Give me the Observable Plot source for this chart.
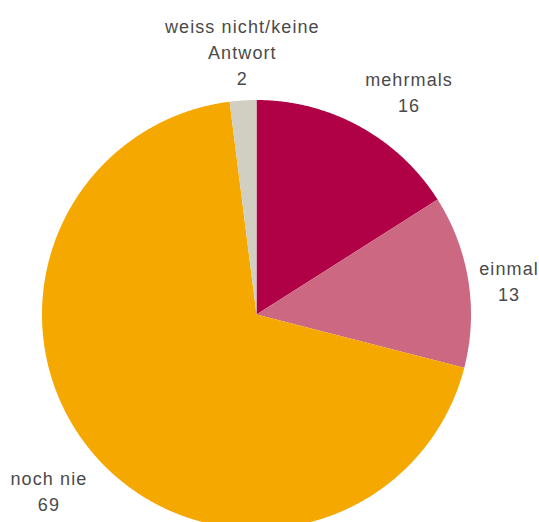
<!DOCTYPE html>
<html>
<head>
<meta charset="utf-8">
<script src="https://cdn.jsdelivr.net/npm/d3@7"></script>
<script src="https://cdn.jsdelivr.net/npm/@observablehq/plot@0.6"></script>
<style>
  html, body { margin: 0; padding: 0; background: #fff; }
</style>
</head>
<body>
<div id="chart"></div>
<script>
// Data
const categories = ["mehrmals", "einmal", "noch nie", "weiss nicht/keine\nAntwort"];
const values = [16, 13, 69, 2];
const colors = ["#B00046", "#CC6882", "#F5A800", "#D1CFC1"];

// Layout
const W = 539, H = 522;
const CX = 256, CY = 314, R = 214.5, PAD = 11;
const FONT_SIZE = 18, LINE_H = 1.45, LETTER = 1.1;
const FONT = "'Liberation Sans', Arial, Helvetica, sans-serif";

const total = d3.sum(values);
let acc = 0;
const slices = values.map((v, i) => {
  const a0 = acc / total * 2 * Math.PI;
  acc += v;
  const a1 = acc / total * 2 * Math.PI;
  return {cat: categories[i], value: v, color: colors[i], a0, a1, mid: (a0 + a1) / 2};
});

// wedge polygons (angle clockwise from top, y downward)
function wedge(s) {
  const pts = [{x: 0, y: 0}];
  const n = Math.max(2, Math.ceil((s.a1 - s.a0) / (Math.PI / 720)));
  for (let k = 0; k <= n; k++) {
    const a = s.a0 + (s.a1 - s.a0) * k / n;
    pts.push({x: R * Math.sin(a), y: -R * Math.cos(a)});
  }
  pts.push({x: 0, y: 0});
  return pts;
}

// label placement
const ctx = document.createElement("canvas").getContext("2d");
ctx.font = `${FONT_SIZE}px ${FONT}`;
const measure = l => ctx.measureText(l).width + LETTER * l.length;
const labels = slices.map(s => {
  const text = s.cat + "\n" + s.value;
  const lines = text.split("\n");
  const w = d3.max(lines, measure);
  const h = lines.length * FONT_SIZE * LINE_H;
  const sx = Math.sin(s.mid), cy = Math.cos(s.mid);
  const ax = (R + PAD) * sx, ay = -(R + PAD) * cy;
  const th = 0.38;
  const hx = sx > th ? 1 : sx < -th ? -1 : 0;
  const vy = cy > th ? -1 : cy < -th ? 1 : 0;
  return {text, x: ax + hx * w / 2, y: ay + vy * h / 2};
});

const chart = Plot.plot({
  width: W,
  height: H,
  margin: 0,
  x: {domain: [-CX, W - CX], range: [0, W], axis: null},
  y: {domain: [-CY, H - CY], range: [0, H], axis: null},
  style: {background: "#fff", fontFamily: FONT, letterSpacing: LETTER + "px"},
  marks: [
    ...slices.map(s => Plot.line(wedge(s), {x: "x", y: "y", fill: s.color, stroke: "none", curve: "linear"})),
    Plot.text(labels, {
      x: "x", y: "y", text: "text",
      fontSize: FONT_SIZE, lineHeight: LINE_H,
      fill: "#4a4a4a", textAnchor: "middle", lineAnchor: "middle"
    })
  ]
});
document.getElementById("chart").appendChild(chart);
</script>
</body>
</html>
